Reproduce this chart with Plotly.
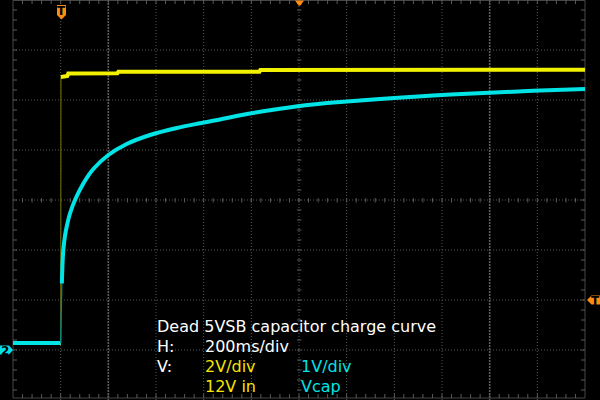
import plotly.graph_objects as go

# ---------------- data ----------------
# Channel 2 : Vcap, volts vs time (ms, trigger at t = 0)
vcap_t_ms = [-200, -100, 0, 5, 8, 11, 18, 25, 39, 60, 95, 137, 200, 277, 375,
             487, 585, 639, 782, 920, 1058, 1201, 1340, 1466, 1562, 1705, 1844,
             1982, 2200]
vcap_v = [0.14, 0.14, 0.14, 1.33, 1.75, 2.0, 2.28, 2.46, 2.73, 3.0, 3.33, 3.62,
          3.9, 4.12, 4.3, 4.44, 4.535, 4.585, 4.72, 4.825, 4.91, 4.97, 5.02,
          5.06, 5.09, 5.125, 5.155, 5.185, 5.22]
# Channel 1 : 12V in
vin_t_ms = [-200, 0, 1, 28, 32, 238, 242, 834, 838, 1500, 2200]
vin_v = [0.08, 0.08, 10.72, 10.76, 10.86, 10.87, 10.93, 10.93, 11.0, 11.0, 11.01]

ch1_volts_per_div = 2
ch2_volts_per_div = 1
ch1_offset_div = -2.9
ch2_offset_div = -3.0
time_per_div_ms = 200
h_divs = 12
v_divs = 8
t_start_ms = -200

title_text = "Dead 5VSB capacitor charge curve"
h_label, h_value = "H:", "200ms/div"
v_label, ch1_scale_lbl, ch2_scale_lbl = "V:", "2V/div", "1V/div"
ch1_name, ch2_name = "12V in", "Vcap"

# ---------------- screen geometry ----------------
W, H = 600, 400
PX_L, PX_R = 13, 585
t_end_ms = t_start_ms + h_divs * time_per_div_ms
MS_PER_PX = (t_end_ms - t_start_ms) / (PX_R - PX_L)
DIV_PER_PX = v_divs / H


def xd(px):
    return t_start_ms + (px - PX_L) * MS_PER_PX


def yd(py):
    return v_divs / 2 - py * DIV_PER_PX


YELLOW = "#F2F200"
CYAN = "#00E4E6"
ORANGE = "#FF8C10"
GRID = "#585858"
BORDER = "#464646"

fig = go.Figure()


def seg_trace(xs, ys, color, width, dash="solid", shape="linear"):
    fig.add_trace(go.Scatter(x=xs, y=ys, mode="lines", hoverinfo="skip",
                             line=dict(color=color, width=width, dash=dash,
                                       shape=shape, smoothing=0.8),
                             showlegend=False))


# dotted grid lines
gx, gy = [], []
for k in range(1, h_divs):
    t = t_start_ms + k * time_per_div_ms
    if k in (2, 10):
        continue
    gx += [t, t, None]
    gy += [yd(0), yd(H), None]
for j in range(1, v_divs):
    y = -v_divs / 2 + j
    gx += [xd(PX_L), xd(PX_R), None]
    gy += [y, y, None]
seg_trace(gx, gy, GRID, 1, "1px,2px")
# two slightly brighter grid lines (as on the screen)
bx, by = [], []
for k in (2, 10):
    t = t_start_ms + k * time_per_div_ms
    bx += [t, t, None]
    by += [yd(0), yd(H), None]
seg_trace(bx, by, "#5e5e5e", 1.6, "2px,1px")

# ticks on border and centre axes
tx, ty = [], []
for i in range(1, h_divs * 5):
    t = t_start_ms + i * time_per_div_ms / 5
    tx += [t, t, None, t, t, None, t, t, None]
    ty += [yd(0), yd(4), None, yd(398), yd(394), None, yd(198), yd(202.5), None]
for j in range(1, v_divs * 5):
    y = -v_divs / 2 + j * 0.2
    tx += [xd(PX_L), xd(PX_L + 4), None, xd(PX_R), xd(PX_R - 4), None,
           xd(297), xd(301.5), None]
    ty += [y, y, None, y, y, None, y, y, None]
seg_trace(tx, ty, "#5a5a5a", 1)

# border
fig.add_shape(type="rect", x0=xd(PX_L), x1=xd(PX_R), y0=yd(398), y1=yd(0.5),
              line=dict(color=BORDER, width=1), layer="below")


def to_div(vals, vpd, off):
    return [v / vpd + off for v in vals]


def draw_channel(ts, vs, vpd, off, color, edge_color, width, shape):
    ys = to_div(vs, vpd, off)
    pre = [i for i, t in enumerate(ts) if t <= 0]
    post = [i for i, t in enumerate(ts) if t > 0]
    seg_trace([ts[i] for i in pre], [ys[i] for i in pre], color, width)
    a, b = pre[-1], post[0]
    seg_trace([ts[a], ts[b]], [ys[a], ys[b]], edge_color, 1.3)
    seg_trace([ts[i] for i in post], [ys[i] for i in post], color, width,
              shape=shape)


draw_channel(vin_t_ms, vin_v, ch1_volts_per_div, ch1_offset_div,
             YELLOW, "#5c5c00", 4, "linear")
draw_channel(vcap_t_ms, vcap_v, ch2_volts_per_div, ch2_offset_div,
             CYAN, "#008a8c", 4, "spline")


# markers
def path(points):
    return "M " + " L ".join(f"{xd(px)},{yd(py)}" for px, py in points) + " Z"


fig.add_shape(type="path", path=path([(57, 5), (66, 5), (66, 15), (61.5, 19.5), (57, 15)]),
              fillcolor=ORANGE, line=dict(width=0))
fig.add_shape(type="path", path=path([(295, 0.5), (304, 0.5), (300.5, 5.5), (298.5, 5.5)]),
              fillcolor=ORANGE, line=dict(width=0))
fig.add_shape(type="path", path=path([(587, 300), (591.5, 295.5), (600, 295.5), (600, 304.5), (591.5, 304.5)]),
              fillcolor=ORANGE, line=dict(width=0))
fig.add_shape(type="path", path=path([(0, 345.5), (9, 345.5), (13, 350), (9, 354.5), (0, 354.5)]),
              fillcolor=CYAN, line=dict(width=0))

mark_font = dict(family="DejaVu Sans", size=12, color="black")
for txt, px, py in [("T", 61.5, 11), ("T", 595, 300.5), ("2", 5, 350.5)]:
    fig.add_annotation(x=xd(px), y=yd(py), text=f"<b>{txt}</b>", showarrow=False,
                       xanchor="center", yanchor="middle", font=mark_font,
                       borderpad=0)

# text block
def label(txt, px, py, color):
    fig.add_annotation(x=xd(px), y=yd(py), text=txt, showarrow=False,
                       xanchor="left", yanchor="middle", borderpad=0,
                       font=dict(family="DejaVu Sans", size=16, color=color))


label(title_text, 156, 326, "white")
label(h_label, 156, 346, "white")
label(h_value, 204, 346, "white")
label(v_label, 156, 366, "white")
label(ch1_scale_lbl, 204, 366, "#F4E400")
label(ch2_scale_lbl, 300, 366, CYAN)
label(ch1_name, 204, 386, "#F4E400")
label(ch2_name, 300, 386, CYAN)

fig.update_layout(
    width=W, height=H, autosize=False,
    margin=dict(l=0, r=0, t=0, b=0, pad=0),
    paper_bgcolor="black", plot_bgcolor="black",
    xaxis=dict(range=[xd(0), xd(W)], visible=False, fixedrange=True),
    yaxis=dict(range=[yd(H), yd(0)], visible=False, fixedrange=True),
    showlegend=False,
)

fig.write_html(
    "out.html",
    config={"displayModeBar": False},
    post_script="document.body.style.margin='0px';"
                "document.body.style.background='black';",
)
